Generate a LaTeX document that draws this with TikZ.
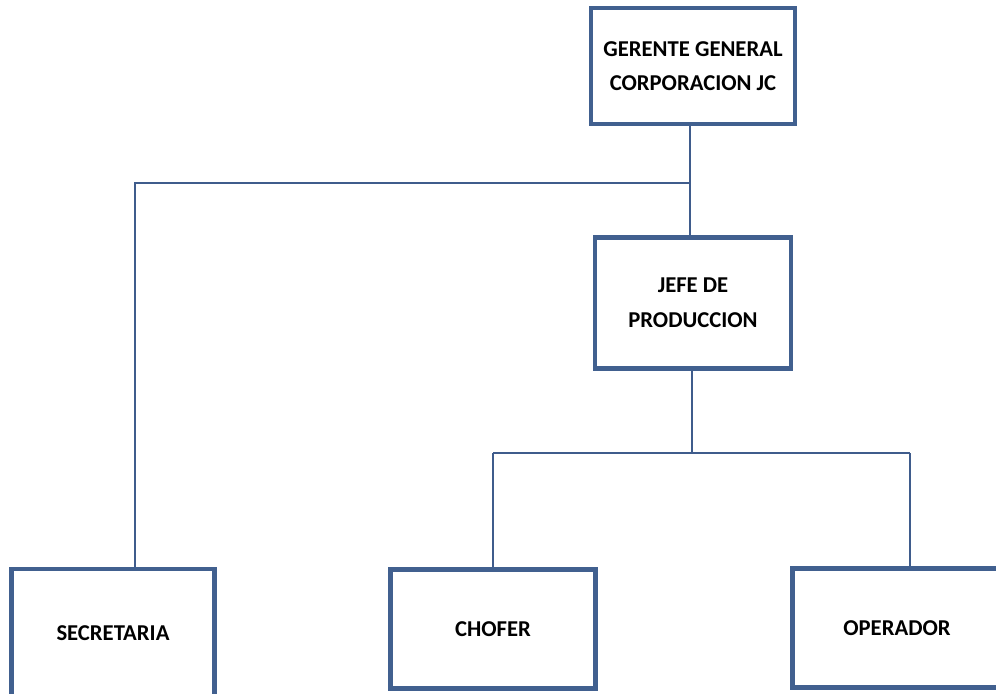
\documentclass[tikz,border=0pt]{standalone}
\usepackage{fontspec}
\setmainfont{Carlito}
\definecolor{boxblue}{HTML}{41608F}
\definecolor{lineblue}{HTML}{3F5C8C}
\begin{document}
\begin{tikzpicture}[x=0.75pt, y=-0.75pt,
  cargo/.style={draw=boxblue, line width=3.3pt, fill=white, align=center,
    font=\bfseries\fontsize{17}{26}\selectfont, inner sep=0pt},
  enlace/.style={draw=lineblue, line width=1.1pt}]
\useasboundingbox (0,0) rectangle (996,693);
\clip (0,0) rectangle (996,693);
\node[cargo, minimum width=153pt, minimum height=87pt] (gg) at (693,66){GERENTE GENERAL\\CORPORACION JC};
\node[cargo, minimum width=147pt, minimum height=98pt] (jp) at (693,303){JEFE DE\\PRODUCCION};
\node[cargo, minimum width=152pt, minimum height=96pt] (sec) at (113,633){SECRETARIA};
\node[cargo, minimum width=154pt, minimum height=89pt] (chof) at (493,629){CHOFER};
\node[cargo, minimum width=157pt, minimum height=89pt] (oper) at (897,628){OPERADOR};
\coordinate (b1) at (690,183);
\coordinate (t1) at (135,183);
\coordinate (b2) at (692,453);
\coordinate (t2) at (493,453);
\coordinate (t3) at (910,453);
\draw[enlace](gg.south -| b1) -- (jp.north -| b1);
\draw[enlace](b1) -- (t1) -- (t1 |- sec.north);
\draw[enlace](jp.south -| b2) -- (b2);
\draw[enlace](t2) -- (t3);
\draw[enlace](t2) -- (chof.north);
\draw[enlace](t3) -- (t3 |- oper.north);
\end{tikzpicture}
\end{document}
